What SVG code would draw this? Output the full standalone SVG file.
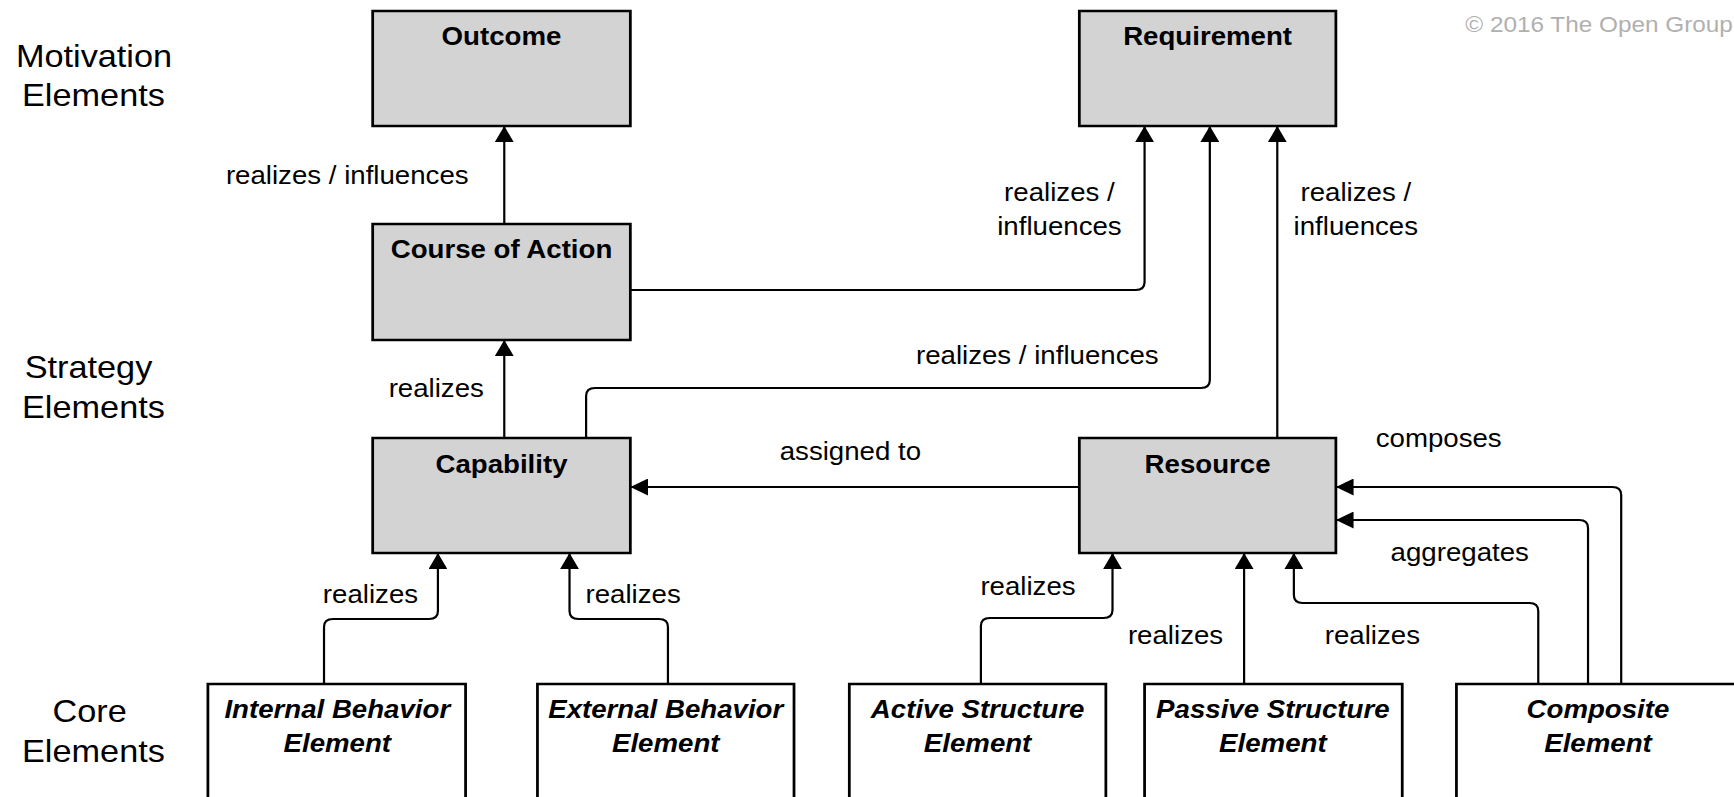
<svg xmlns="http://www.w3.org/2000/svg" width="1734" height="797" viewBox="0 0 1734 797">
<style>
.box{fill:#d3d3d3;stroke:#000;stroke-width:2.5}
.core{fill:#fff;stroke:#000;stroke-width:2.5}
.t{font-family:"Liberation Sans",Arial,sans-serif;font-size:25px;font-weight:bold;text-anchor:middle;fill:#000}
.ti{font-family:"Liberation Sans",Arial,sans-serif;font-size:25px;font-weight:bold;font-style:italic;text-anchor:middle;fill:#000}
.lbl{font-family:"Liberation Sans",Arial,sans-serif;font-size:25px;text-anchor:middle;fill:#000}
.row{font-family:"Liberation Sans",Arial,sans-serif;font-size:31px;text-anchor:middle;fill:#000}
.copy{font-family:"Liberation Sans",Arial,sans-serif;font-size:22px;fill:#b0b0b0}
.c{fill:none;stroke:#000;stroke-width:2;marker-end:url(#arr)}
</style>
<defs>
<marker id="arr" markerUnits="userSpaceOnUse" markerWidth="16" markerHeight="17" refX="16" refY="8.5" orient="auto">
<path d="M0,0 L16,8.5 L0,17 z" fill="#000"/>
</marker>
</defs>
<rect width="1734" height="797" fill="#fff"/>
<g transform="scale(1.10587,1)">
<g id="row-labels">
<text class="row" x="85" y="67">Motivation</text>
<text class="row" x="84.5" y="106">Elements</text>
<text class="row" x="80" y="378">Strategy</text>
<text class="row" x="84.5" y="418">Elements</text>
<text class="row" x="81" y="722">Core</text>
<text class="row" x="84.5" y="762">Elements</text>
</g>
<text class="copy" x="1325" y="32">© 2016 The Open Group</text>

<g id="connectors">
<path class="c" d="M456,224 V126"/>
<path class="c" d="M456,438 V340"/>
<path class="c" d="M570,290 H1027 Q1035,290 1035,282 V126"/>
<path class="c" d="M530,438 V396 Q530,388 538,388 H1086 Q1094,388 1094,380 V126"/>
<path class="c" d="M1155,438 V126"/>
<path class="c" d="M976,487 H570"/>
<path class="c" d="M293,684 V627 Q293,619 301,619 H388 Q396,619 396,611 V553"/>
<path class="c" d="M604,684 V627 Q604,619 596,619 H523 Q515,619 515,611 V553"/>
<path class="c" d="M887,684 V626 Q887,618 895,618 H998 Q1006,618 1006,610 V553"/>
<path class="c" d="M1125,684 V553"/>
<path class="c" d="M1391,684 V611 Q1391,603 1383,603 H1178 Q1170,603 1170,595 V553"/>
<path class="c" d="M1436,684 V528 Q1436,520 1428,520 H1208"/>
<path class="c" d="M1466,684 V495 Q1466,487 1458,487 H1208"/>
<text class="lbl" x="314" y="184">realizes / influences</text>
<text class="lbl" x="958" y="201">realizes /</text>
<text class="lbl" x="958" y="235">influences</text>
<text class="lbl" x="1226" y="201">realizes /</text>
<text class="lbl" x="1226" y="235">influences</text>
<text class="lbl" x="938" y="364">realizes / influences</text>
<text class="lbl" x="394.5" y="397">realizes</text>
<text class="lbl" x="769" y="460">assigned to</text>
<text class="lbl" x="1301" y="447">composes</text>
<text class="lbl" x="1320" y="561">aggregates</text>
<text class="lbl" x="335" y="603">realizes</text>
<text class="lbl" x="572.5" y="603">realizes</text>
<text class="lbl" x="929.6" y="595">realizes</text>
<text class="lbl" x="1063" y="644">realizes</text>
<text class="lbl" x="1241" y="644">realizes</text>
</g>

<g id="outcome"><rect class="box" x="337" y="11" width="233" height="115"/><text class="t" x="453.5" y="45">Outcome</text></g>
<g id="requirement"><rect class="box" x="976" y="11" width="232" height="115"/><text class="t" x="1092" y="45">Requirement</text></g>
<g id="course-of-action"><rect class="box" x="337" y="224" width="233" height="116"/><text class="t" x="453.5" y="258">Course of Action</text></g>
<g id="capability"><rect class="box" x="337" y="438" width="233" height="115"/><text class="t" x="453.5" y="473">Capability</text></g>
<g id="resource"><rect class="box" x="976" y="438" width="232" height="115"/><text class="t" x="1092" y="473">Resource</text></g>
<g id="internal-behavior"><rect class="core" x="188" y="684" width="233" height="130"/><text class="ti" x="305" y="718">Internal Behavior</text><text class="ti" x="305" y="752">Element</text></g>
<g id="external-behavior"><rect class="core" x="486" y="684" width="232" height="130"/><text class="ti" x="602" y="718">External Behavior</text><text class="ti" x="602" y="752">Element</text></g>
<g id="active-structure"><rect class="core" x="768" y="684" width="232" height="130"/><text class="ti" x="884" y="718">Active Structure</text><text class="ti" x="884" y="752">Element</text></g>
<g id="passive-structure"><rect class="core" x="1035" y="684" width="233" height="130"/><text class="ti" x="1151" y="718">Passive Structure</text><text class="ti" x="1151" y="752">Element</text></g>
<g id="composite"><rect class="core" x="1317" y="684" width="260" height="130"/><text class="ti" x="1445" y="718">Composite</text><text class="ti" x="1445" y="752">Element</text></g>
</g>
</svg>
